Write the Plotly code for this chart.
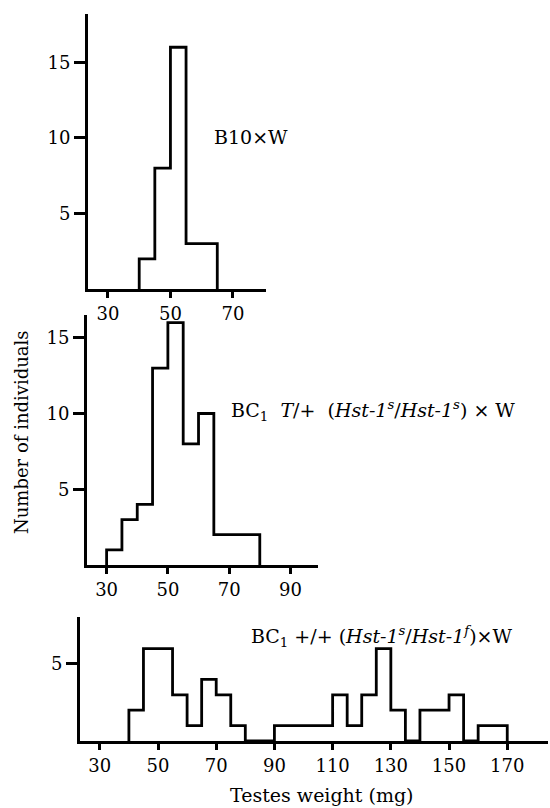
import plotly.graph_objects as go

W, H = 550, 808

# Panel 1: B10 x W
p1_edges = [40, 45, 50, 55, 60, 65]
p1_counts = [2, 8, 16, 3, 3]
p1_xticks = [30, 50, 70]
p1_yticks = [5, 10, 15]

# Panel 2: BC1 T/+ (Hst-1s/Hst-1s) x W
p2_edges = [30, 35, 40, 45, 50, 55, 60, 65, 70, 75, 80]
p2_counts = [1, 3, 4, 13, 16, 8, 10, 2, 2, 2]
p2_xticks = [30, 50, 70, 90]
p2_yticks = [5, 10, 15]

# Panel 3: BC1 +/+ (Hst-1s/Hst-1f) x W
p3_edges = [40, 45, 50, 55, 60, 65, 70, 75, 80, 85, 90, 95, 100, 105, 110, 115,
            120, 125, 130, 135, 140, 145, 150, 155, 160, 165, 170]
p3_counts = [2, 6, 6, 3, 1, 4, 3, 1, 0, 0, 1, 1, 1, 1, 3, 1,
             3, 6, 2, 0, 2, 2, 3, 0, 1, 1]
p3_xticks = [30, 50, 70, 90, 110, 130, 150, 170]
p3_yticks = [5]

labels = [
    "B10×W",
    "BC<sub>1</sub>&nbsp; <i>T</i>/+ &nbsp;(<i>Hst-1<sup>s</sup></i>/<i>Hst-1<sup>s</sup></i>) × W",
    "BC<sub>1</sub> +/+ (<i>Hst-1<sup>s</sup></i>/<i>Hst-1<sup>f</sup></i>)×W",
]

FONT = "DejaVu Serif"

def step_xy(edges, counts):
    xs = [edges[0]] + list(edges)
    ys = [0] + list(counts) + [0]
    return xs, ys

fig = go.Figure()

panels = [
    (p1_edges, p1_counts, p1_xticks, p1_yticks, (88, 266), (14, 289), [23.6, 80.6], [0, 18.2]),
    (p2_edges, p2_counts, p2_xticks, p2_yticks, (87, 318), (315, 565), [23.6, 99], [0, 16.5]),
    (p3_edges, p3_counts, p3_xticks, p3_yticks, (80, 548), (617, 741), [23.2, 184], [0, 8.05]),
]

for i, (edges, counts, xt, yt, xpx, ypx, xr, yr) in enumerate(panels):
    n = "" if i == 0 else str(i + 1)
    xs, ys = step_xy(edges, counts)
    fig.add_trace(go.Scatter(x=xs, y=ys, mode="lines", line=dict(shape="hv", color="black", width=2.8),
                             xaxis="x" + n, yaxis="y" + n, showlegend=False, hoverinfo="skip"))
    common = dict(showgrid=False, zeroline=False, showline=True, linecolor="black", linewidth=3,
                  ticks="outside", tickcolor="black", tickwidth=2.5,
                  tickfont=dict(family=FONT, size=18, color="black"))
    fig.layout["xaxis" + n] = dict(domain=[xpx[0] / W, xpx[1] / W], range=xr, tickvals=xt,
                                   ticklen=6, anchor="y" + n, **common)
    fig.layout["yaxis" + n] = dict(domain=[1 - ypx[1] / H, 1 - ypx[0] / H], range=yr, tickvals=yt,
                                   ticklen=11, anchor="x" + n, **common)

ann_font = dict(family=FONT, size=19, color="black")
fig.add_annotation(text=labels[0], x=212 / W, y=1 - 137 / H, xref="paper", yref="paper",
                   xanchor="left", yanchor="middle", showarrow=False, font=ann_font)
fig.add_annotation(text=labels[1], x=229 / W, y=1 - 410 / H, xref="paper", yref="paper",
                   xanchor="left", yanchor="middle", showarrow=False, font=ann_font)
fig.add_annotation(text=labels[2], x=249 / W, y=1 - 636 / H, xref="paper", yref="paper",
                   xanchor="left", yanchor="middle", showarrow=False, font=ann_font)
fig.add_annotation(text="Number of individuals", x=21 / W, y=1 - 432 / H, xref="paper", yref="paper",
                   xanchor="center", yanchor="middle", showarrow=False, textangle=-90,
                   font=dict(family=FONT, size=18, color="black"))
fig.add_annotation(text="Testes weight (mg)", x=322 / W, y=1 - 795 / H, xref="paper", yref="paper",
                   xanchor="center", yanchor="middle", showarrow=False,
                   font=dict(family=FONT, size=19, color="black"))

fig.update_layout(width=W, height=H, margin=dict(l=0, r=0, t=0, b=0),
                  paper_bgcolor="white", plot_bgcolor="white")

fig.write_html("out.html")
